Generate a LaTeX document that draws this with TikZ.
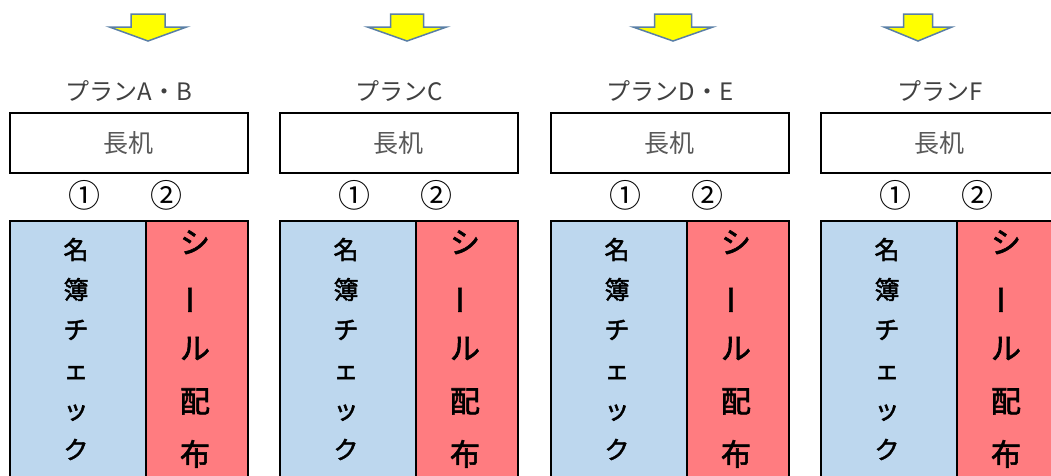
\documentclass[tikz,border=0pt]{standalone}
\usepackage{fontspec}
\newfontfamily\jp{Noto Sans CJK JP}
\newfontfamily\jpb{Noto Sans CJK JP}[FakeBold=2]
\definecolor{chkblue}{HTML}{BDD7EE}
\definecolor{sealred}{HTML}{FF7C80}
\definecolor{arrowfill}{HTML}{FFFF00}
\definecolor{arrowline}{HTML}{5A7FA6}
\definecolor{titlegray}{HTML}{404040}
\definecolor{deskgray}{HTML}{595959}
\tikzset{
  titletext/.style={font=\jp\fontsize{24}{24}\selectfont, text=titlegray, inner sep=0pt},
  deskbox/.style={draw=black, line width=1.5pt, fill=white, minimum width=238pt, minimum height=60pt, anchor=north west, inner sep=0pt, font=\jp\fontsize{25}{25}\selectfont, text=deskgray},
  numtext/.style={font=\jp\fontsize{32}{32}\selectfont, text=black, inner sep=0pt},
  checkbox/.style={draw=black, line width=1.5pt, fill=chkblue, minimum width=136pt, minimum height=280pt, anchor=north west, inner sep=0pt},
  sealbox/.style={draw=black, line width=1.5pt, fill=sealred, minimum width=102pt, minimum height=280pt, anchor=north west, inner sep=0pt},
  checktext/.style={font=\jpb\fontsize{25}{40}\selectfont, align=center, inner sep=0pt},
  sealtext/.style={font=\jpb\fontsize{30}{53}\selectfont, align=center, inner sep=0pt},
  downarrow/.style={fill=arrowfill, draw=arrowline, line width=1.5pt, line join=miter},
}
\begin{document}
\begin{tikzpicture}[x=1pt,y=-1pt]
\useasboundingbox (0,0) rectangle (1051,475);
\clip (0,0) rectangle (1051,475);
\foreach \L/\T/\ac/\sh/\hh [count=\i] in {9/プランA・B/148/17/38.5, 279/プランC/407/16.5/39.5, 550/プランD・E/673/18.5/40, 820/プランF/918/14.5/34}{
  \draw[downarrow] (\ac-\sh,14) -- (\ac+\sh,14) -- (\ac+\sh,27) -- (\ac+\hh,27) -- (\ac,41) -- (\ac-\hh,27) -- (\ac-\sh,27) -- cycle;
  \node[titletext] (title\i) at (\L+120,91) {\T};
  \node[deskbox] (desk\i) at (\L,112) {長机};
  \node[numtext] (one\i) at (\L+75,195) {①};
  \node[numtext] (two\i) at (\L+157,195) {②};
  \node[checkbox] (check\i) at (\L,220) {};
  \node[sealbox] (seal\i) at (\L+136,220) {};
  \node[checktext] (checkt\i) at (\L+67,349) {名\\簿\\チ\\ェ\\ッ\\ク};
  \node[sealtext] (sealt\i) at (\L+186,349) {シ\\\rotatebox[origin=c]{90}{ー}\\ル\\配\\布};
}
\end{tikzpicture}
\end{document}
